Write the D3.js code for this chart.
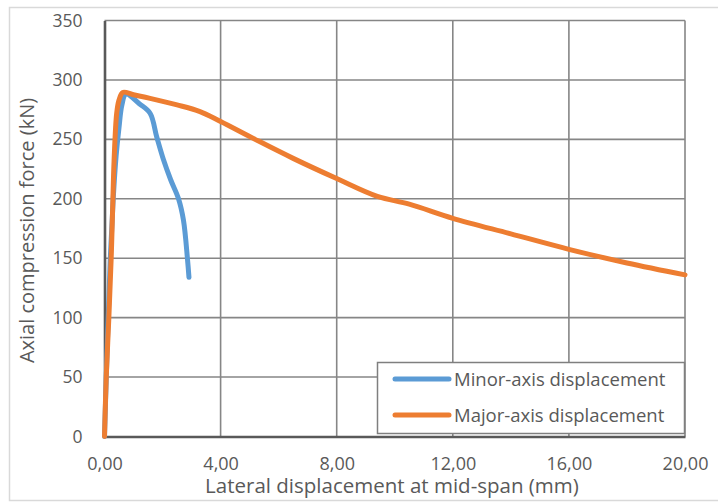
<!DOCTYPE html>
<html>
<head>
<meta charset="utf-8">
<script src="https://cdn.jsdelivr.net/npm/d3@7"></script>
<style>
  body { margin: 0; background: #fff; }
  svg text { font-family: "Open Sans", sans-serif; fill: #595959; }
</style>
</head>
<body>
<div id="chart"></div>
<script>
// values
const seriesNames = ["Minor-axis displacement", "Major-axis displacement"];
const seriesColors = ["#5B9BD5", "#ED7D31"];

// minor-axis: [lateral displacement (mm), axial force (kN)]
const minorAxis = [
    [0, 0], [0.1, 80], [0.2, 150], [0.3, 200], [0.4, 236], [0.5, 260],
    [0.6, 279], [0.74, 288], [1.2, 280], [1.57, 272], [1.8, 252],
    [2.03, 233], [2.28, 216], [2.55, 200], [2.72, 182], [2.86, 149], [2.91, 134]
];

// major-axis
const majorAxis = [
    [0, 0], [0.06, 50], [0.15, 100], [0.23, 150], [0.29, 200], [0.33, 232],
    [0.42, 272], [0.5, 283], [0.63, 289.5], [1.0, 287.5], [1.57, 284.5],
    [2.5, 279], [3.29, 273.3], [4.0, 265], [5.19, 250], [6.5, 234],
    [8.0, 217], [9.4, 202], [10.5, 195.5], [12.0, 183.6], [14.0, 170.5],
    [16.0, 157.5], [18.0, 146], [20.0, 136]
];

const xTicks = [0, 4, 8, 12, 16, 20];
const yTicks = [0, 50, 100, 150, 200, 250, 300, 350];

const W = 718, H = 502;
const margin = {top: 20.5, right: 33, bottom: 65.5, left: 104.5};

const svg = d3.select("#chart").append("svg")
    .attr("width", W)
    .attr("height", H);

// light outer frame
svg.append("rect")
    .attr("x", 9.5).attr("y", 7.5)
    .attr("width", W).attr("height", 493)
    .attr("fill", "none")
    .attr("stroke", "#d9d9d9")
    .attr("stroke-width", 1.5);

const x = d3.scaleLinear().domain([0, 20]).range([margin.left, W - margin.right]);
const y = d3.scaleLinear().domain([0, 350]).range([H - margin.bottom, margin.top]);

// grid
svg.append("g")
    .selectAll("line.hgrid")
    .data(yTicks.filter(d => d > 0))
    .enter().append("line")
    .attr("x1", x(0)).attr("x2", x(20))
    .attr("y1", d => y(d)).attr("y2", d => y(d))
    .attr("stroke", "#868686")
    .attr("stroke-width", 1.6);

svg.append("g")
    .selectAll("line.vgrid")
    .data(xTicks.filter(d => d > 0))
    .enter().append("line")
    .attr("x1", d => x(d)).attr("x2", d => x(d))
    .attr("y1", y(0)).attr("y2", y(350))
    .attr("stroke", "#868686")
    .attr("stroke-width", 1.6);

// axes
const fmt = d => d.toFixed(2).replace(".", ",");

const xAxis = svg.append("g")
    .attr("transform", `translate(0, ${y(0)})`)
    .call(d3.axisBottom(x).tickValues(xTicks).tickFormat(fmt).tickSize(0).tickPadding(21));
xAxis.select(".domain").attr("stroke", "#595959").attr("stroke-width", 2.6);
xAxis.selectAll("text").style("font-size", "18px").attr("fill", "#595959");

const yAxis = svg.append("g")
    .attr("transform", `translate(${x(0)}, 0)`)
    .call(d3.axisLeft(y).tickValues(yTicks).tickSize(0).tickPadding(22));
yAxis.select(".domain").attr("stroke", "#595959").attr("stroke-width", 2.6);
yAxis.selectAll("text").style("font-size", "17.5px").attr("fill", "#595959");

// axis titles
svg.append("text")
    .attr("x", 392)
    .attr("y", 493)
    .attr("text-anchor", "middle")
    .style("font-size", "20.5px")
    .text("Lateral displacement at mid-span (mm)");

svg.append("text")
    .attr("transform", `translate(34, ${(y(0) + y(350)) / 2 + 2}) rotate(-90)`)
    .attr("text-anchor", "middle")
    .style("font-size", "20px")
    .text("Axial compression force (kN)");

// lines
const line = d3.line()
    .x(d => x(d[0]))
    .y(d => y(d[1]))
    .curve(d3.curveCatmullRom.alpha(0.5));

[minorAxis, majorAxis].forEach((data, i) => {
    svg.append("path")
        .datum(data)
        .attr("d", line)
        .attr("fill", "none")
        .attr("stroke", seriesColors[i])
        .attr("stroke-width", 5)
        .attr("stroke-linecap", "round")
        .attr("stroke-linejoin", "round");
});

// legend
const legend = svg.append("g").attr("class", "legend");
legend.append("rect")
    .attr("x", 377.5).attr("y", 362.5)
    .attr("width", 307).attr("height", 71)
    .attr("fill", "#fff")
    .attr("stroke", "#7f7f7f")
    .attr("stroke-width", 1.5);

seriesNames.forEach((name, i) => {
    const ly = 379 + i * 36;
    legend.append("line")
        .attr("x1", 395).attr("x2", 449)
        .attr("y1", ly).attr("y2", ly)
        .attr("stroke", seriesColors[i])
        .attr("stroke-width", 5)
        .attr("stroke-linecap", "round");
    legend.append("text")
        .attr("x", 454)
        .attr("y", ly + 7)
        .style("font-size", "18.5px")
        .text(name);
});
</script>
</body>
</html>
